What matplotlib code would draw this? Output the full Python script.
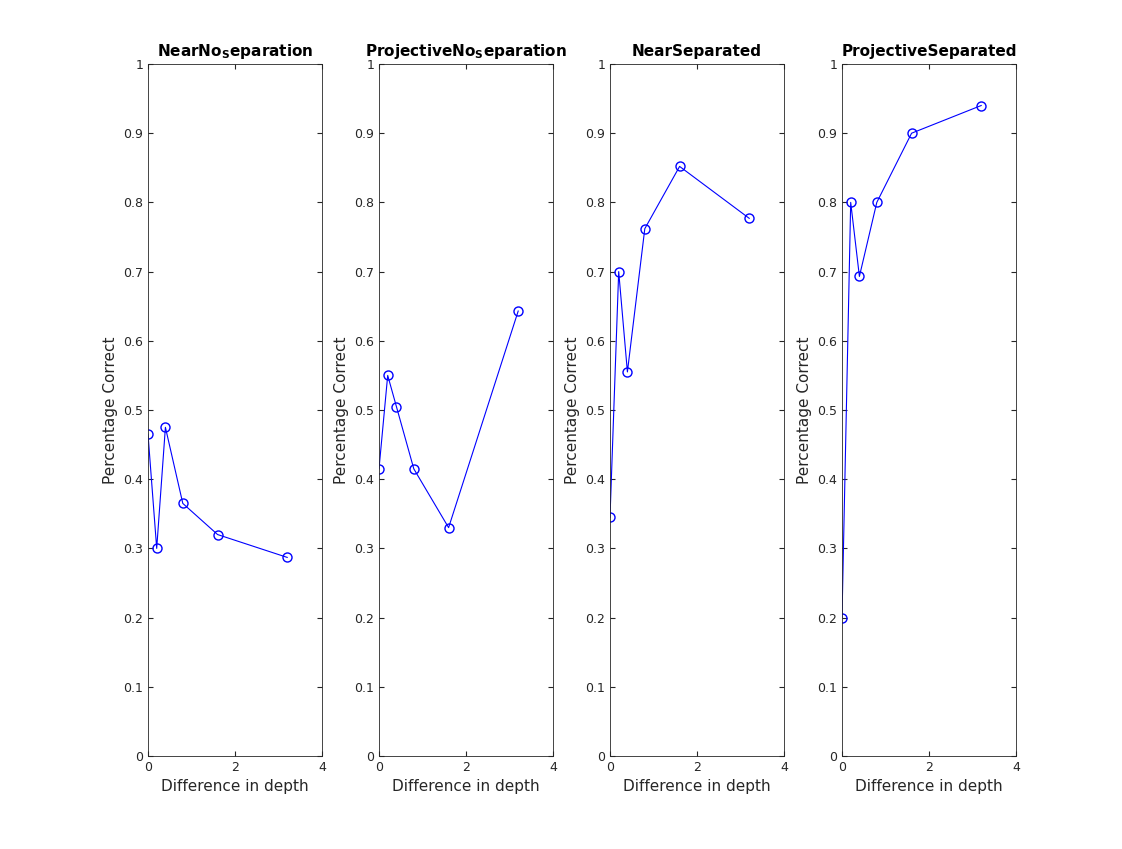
import matplotlib
matplotlib.use("Agg")
import matplotlib.pyplot as plt

depth = [0, 0.2, 0.4, 0.8, 1.6, 3.2]
titles = [r"NearNo$_\mathbf{S}$eparation", r"ProjectiveNo$_\mathbf{S}$eparation",
          "NearSeparated", "ProjectiveSeparated"]
near_no_sep = [0.465, 0.30, 0.475, 0.365, 0.32, 0.287]
proj_no_sep = [0.415, 0.55, 0.505, 0.415, 0.33, 0.643]
near_sep = [0.345, 0.70, 0.555, 0.762, 0.852, 0.777]
proj_sep = [0.20, 0.80, 0.693, 0.80, 0.90, 0.94]
series = [near_no_sep, proj_no_sep, near_sep, proj_sep]

fig = plt.figure(figsize=(11.22, 8.49), dpi=100)
lefts = [148, 379, 610, 842]
for left, title, vals in zip(lefts, titles, series):
    ax = fig.add_axes([left / 1122, 93 / 849, 174 / 1122, 692 / 849])
    ax.plot(depth, vals, color="#0000ff", marker="o", markersize=6.5,
            markerfacecolor="none", linewidth=0.8)
    ax.set_xlim(0, 4)
    ax.set_ylim(0, 1)
    ax.set_xticks([0, 2, 4])
    ax.set_yticks([i / 10 for i in range(11)])
    ax.set_yticklabels(["0"] + [f"{i / 10:g}" for i in range(1, 10)] + ["1"])
    ax.tick_params(direction="in", top=True, right=True, labelsize=9, colors="#262626")
    for s in ax.spines.values():
        s.set_linewidth(0.6)
        s.set_color("#262626")
    ax.set_xlabel("Difference in depth", fontsize=11, color="#262626")
    ax.set_ylabel("Percentage Correct", fontsize=11, color="#262626")
    ax.set_title(title, fontsize=11, fontweight="bold")

fig.savefig("out.png", dpi=100)
